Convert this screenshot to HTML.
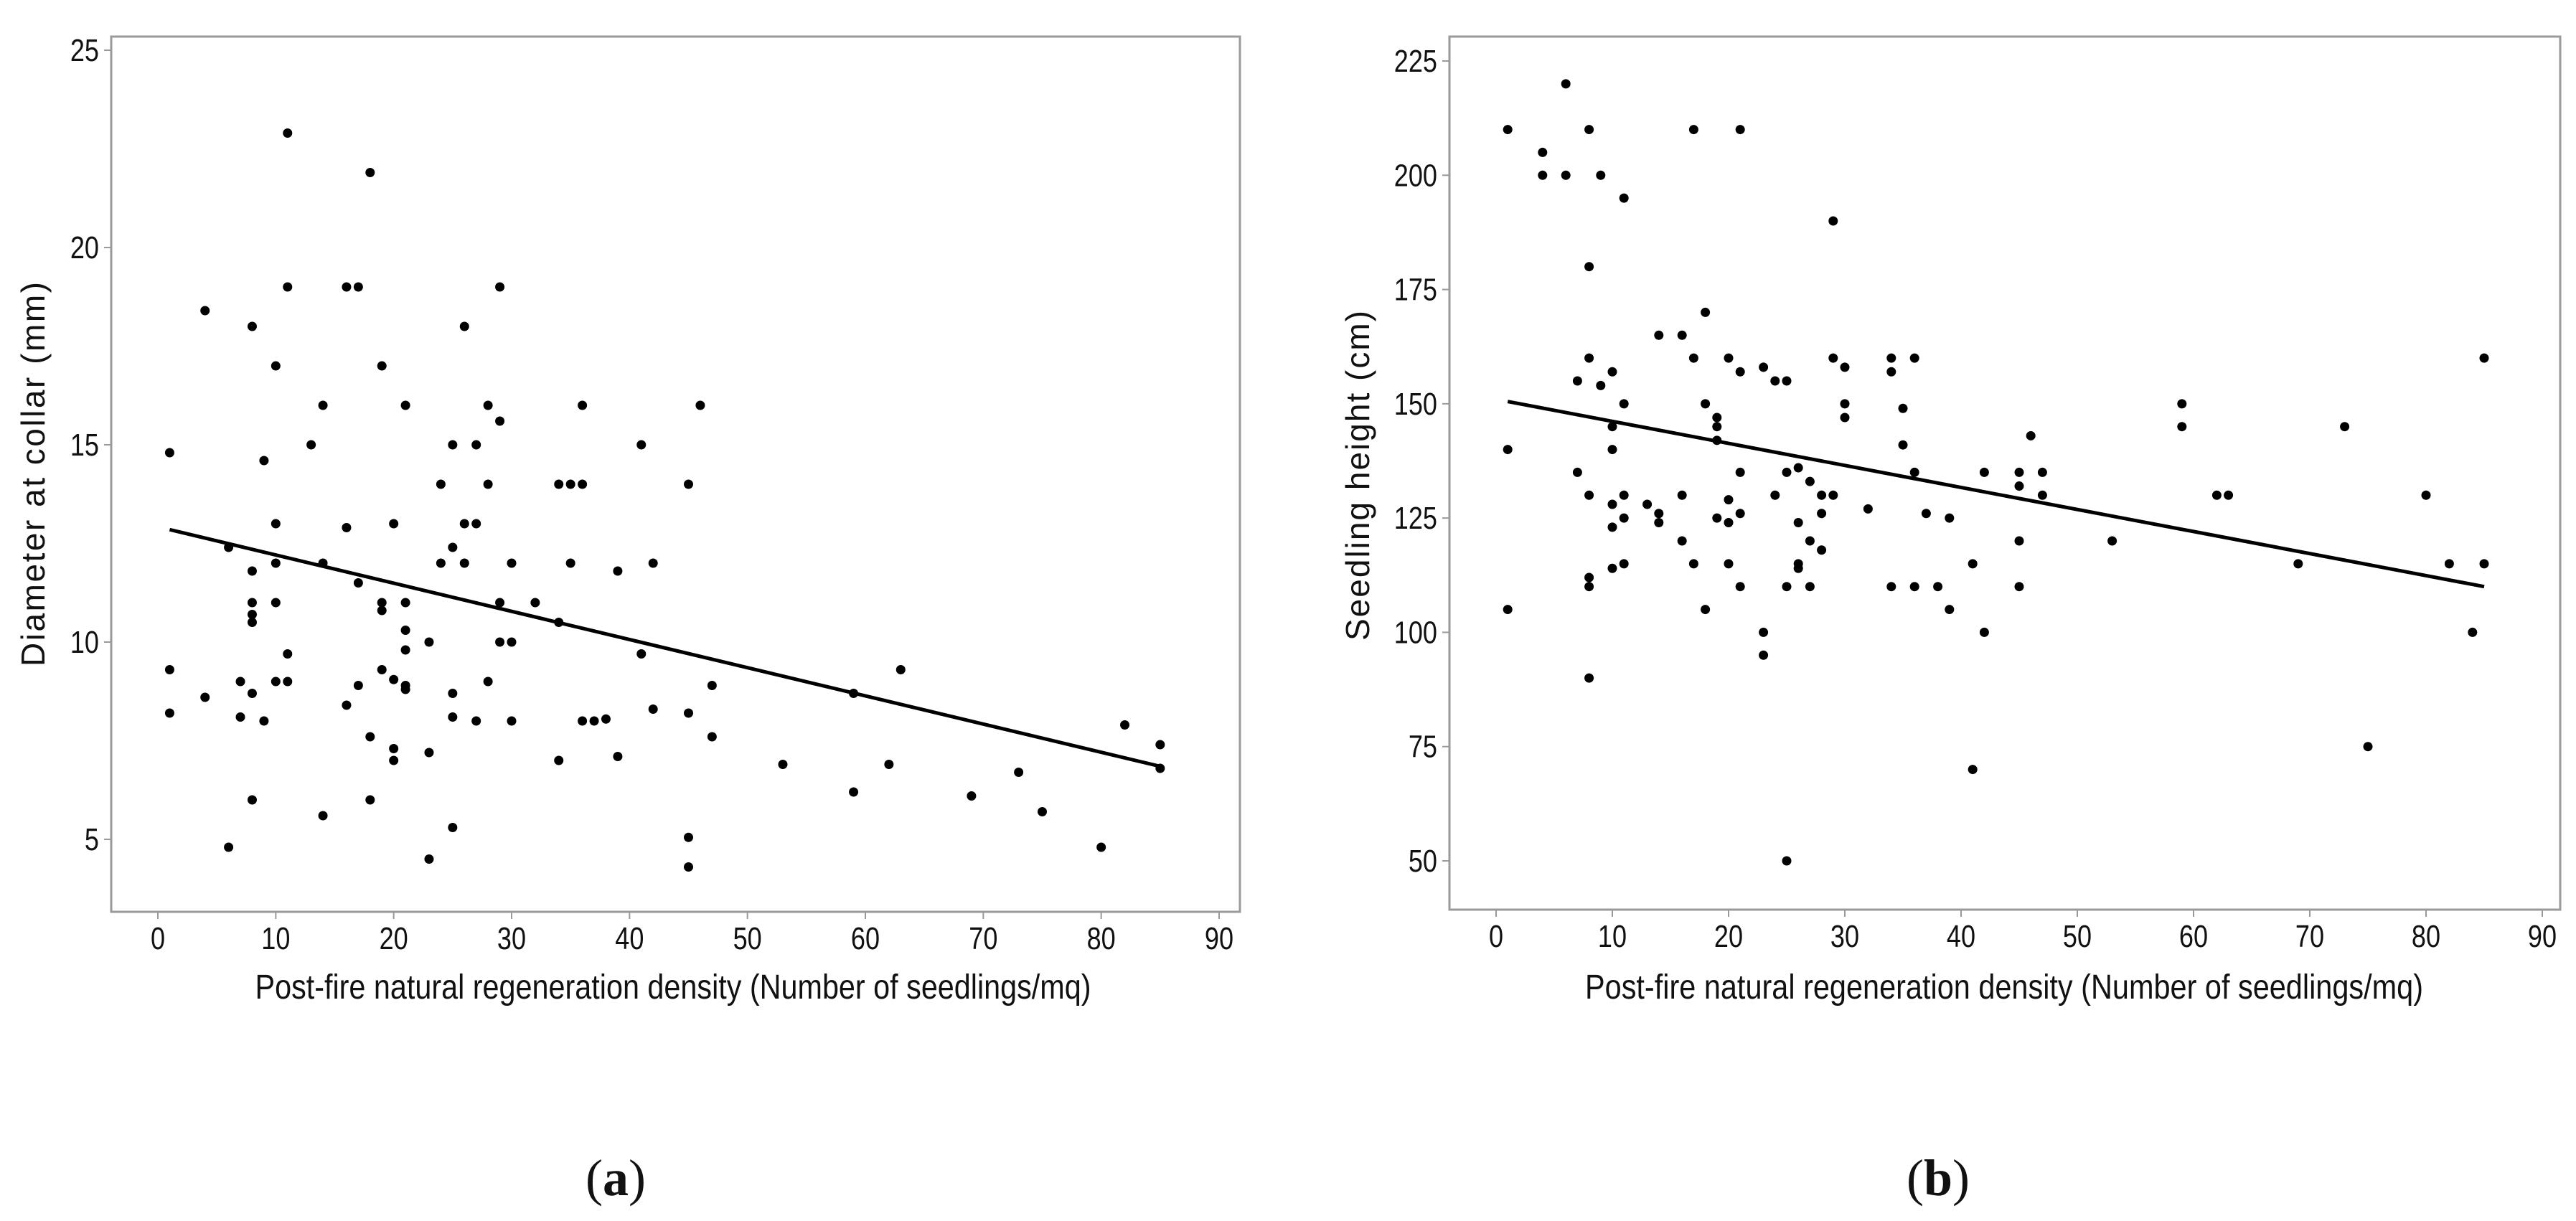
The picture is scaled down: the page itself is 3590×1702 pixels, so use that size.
<!DOCTYPE html>
<html><head><meta charset="utf-8"><style>
html,body{margin:0;padding:0;background:#fff;}
svg{display:block;}
text{font-family:"Liberation Sans",sans-serif;fill:#111;}
</style></head><body>
<svg id="fig" width="3590" height="1702" viewBox="0 0 3590 1702" xmlns="http://www.w3.org/2000/svg"></svg>
<script>
// Panel (a): diameter at collar
const aX = [11,18,11,16,17,29,4,8,26,10,19,14,21,28,36,46,29,13,25,27,41,1,9,24,28,34,35,36,45,10,16,20,26,27,25,6,10,14,24,26,30,35,42,8,39,17,8,10,19,21,29,32,19,8,8,34,21,23,29,30,21,41,11,1,19,63,7,10,11,20,28,21,21,17,47,8,25,59,4,16,42,1,7,45,25,9,27,30,36,37,38,82,18,47,85,20,23,39,20,34,53,62,85,73,59,69,8,18,75,14,25,45,6,80,23,45];
const aY = [22.9,21.9,19,19,19,19,18.4,18,18,17,17,16,16,16,16,16,15.6,15,15,15,15,14.8,14.6,14,14,14,14,14,14,13,12.9,13,13,13,12.4,12.4,12,12,12,12,12,12,12,11.8,11.8,11.5,11,11,11,11,11,11,10.8,10.7,10.5,10.5,10.3,10,10,10,9.8,9.7,9.7,9.3,9.3,9.3,9,9,9,9.05,9,8.9,8.8,8.9,8.9,8.7,8.7,8.7,8.6,8.4,8.3,8.2,8.1,8.2,8.1,8,8,8,8,8,8.05,7.9,7.6,7.6,7.4,7.3,7.2,7.1,7,7,6.9,6.9,6.8,6.7,6.2,6.1,6,6,5.7,5.6,5.3,5.05,4.8,4.8,4.5,4.3];
const aFitX = [1,85];
const aFitY = [12.85,6.85];
const aXTicks = [0,10,20,30,40,50,60,70,80,90];
const aYTicks = [5,10,15,20,25];
// Panel (b): seedling height
const bX = [6,1,8,17,21,4,4,6,9,11,29,8,18,14,16,8,17,20,29,34,36,85,23,30,10,21,34,7,24,25,9,11,18,30,59,35,19,30,10,19,59,73,46,19,35,1,10,26,7,21,25,36,42,45,47,27,45,8,11,16,24,28,29,47,62,63,80,20,13,10,32,14,21,28,37,11,19,39,14,20,26,10,16,27,45,53,28,11,17,20,26,41,69,82,85,10,26,8,8,21,25,27,34,36,38,45,1,18,39,23,42,84,23,8,75,41,25];
const bY = [220,210,210,210,210,205,200,200,200,195,190,180,170,165,165,160,160,160,160,160,160,160,158,158,157,157,157,155,155,155,154,150,150,150,150,149,147,147,145,145,145,145,143,142,141,140,140,136,135,135,135,135,135,135,135,133,132,130,130,130,130,130,130,130,130,130,130,129,128,128,127,126,126,126,126,125,125,125,124,124,124,123,120,120,120,120,118,115,115,115,115,115,115,115,115,114,114,112,110,110,110,110,110,110,110,110,105,105,105,100,100,100,95,90,75,70,50];
const bFitX = [1,85];
const bFitY = [150.5,110];
const bXTicks = [0,10,20,30,40,50,60,70,80,90];
const bYTicks = [50,75,100,125,150,175,200,225];

const NS = "http://www.w3.org/2000/svg";
const svg = document.getElementById('fig');
function mk(tag, attrs, parent){
  const e = document.createElementNS(NS, tag);
  for (const k in attrs) e.setAttribute(k, attrs[k]);
  (parent||svg).appendChild(e);
  return e;
}
function panel(cfg){
  const g = mk('g', {});
  
  
  const sx = v => cfg.x0 + (v - cfg.xa) * (cfg.x1 - cfg.x0) / (cfg.xb - cfg.xa);
  const sy = v => cfg.y0 + (v - cfg.ya) * (cfg.y1 - cfg.y0) / (cfg.yb - cfg.ya);
  const fr = mk('rect', {x:cfg.fl, y:cfg.ft, width:cfg.fr-cfg.fl, height:cfg.fb-cfg.ft, fill:'none', stroke:'#9a9a9a', 'stroke-width':3}, g);
  
  
  cfg.xt.forEach(t => {
    const x = sx(t);
    const tk = mk('line', {x1:x, x2:x, y1:cfg.fb, y2:cfg.fb+10, stroke:'#9a9a9a', 'stroke-width':2}, g);
    
    
    const tx = mk('text', {x:x, y:cfg.fb+52, 'text-anchor':'middle', 'font-size':44, transform:`translate(${x},0) scale(0.82,1) translate(${-x},0)`}, g);
    tx.textContent = t;
    
    
  });
  cfg.yt.forEach(t => {
    const y = sy(t);
    const tk = mk('line', {x1:cfg.fl-10, x2:cfg.fl, y1:y, y2:y, stroke:'#9a9a9a', 'stroke-width':2}, g);
    
    
    const lx = cfg.fl - 17;
    const tx = mk('text', {x:lx, y:y+15, 'text-anchor':'end', 'font-size':44, transform:`translate(${lx},0) scale(0.82,1) translate(${-lx},0)`}, g);
    tx.textContent = t;
    
    
  });
  const xt = mk('text', {x:cfg.xtc, y:1392, 'text-anchor':'middle', 'font-size':48, textLength:cfg.xtl, lengthAdjust:'spacingAndGlyphs'}, g);
  xt.textContent = 'Post-fire natural regeneration density (Number of seedlings/mq)';
  
  
  const yt = mk('text', {x:0, y:0, 'text-anchor':'middle', 'font-size':46, textLength:cfg.ytl, lengthAdjust:'spacing', transform:`translate(${cfg.ytx},${cfg.ytc}) rotate(-90)`}, g);
  yt.textContent = cfg.ytitle;
  
  
  const ln = mk('line', {x1:sx(cfg.fx[0]), y1:sy(cfg.fy[0]), x2:sx(cfg.fx[1]), y2:sy(cfg.fy[1]), stroke:'#000', 'stroke-width':5}, g);
  
  
  cfg.px.forEach((v, i) => {
    const c = mk('circle', {cx:sx(v), cy:sy(cfg.py[i]), r:6.5, fill:'#000'}, g);
    
    
  });
  const lab = mk('text', {x:cfg.labx, y:1666, 'text-anchor':'middle', 'font-size':72, style:'font-family:"Liberation Serif",serif'}, g);
  lab.innerHTML = '(<tspan font-weight="bold">' + cfg.lab + '</tspan>)';
  
  
}
panel({name:'panel-a', x0:220, x1:1699, xa:0, xb:90, y0:1170, y1:70, ya:5, yb:25,
  fl:155, fr:1728, ft:51, fb:1271, xt:aXTicks, yt:aYTicks, px:aX, py:aY, fx:aFitX, fy:aFitY,
  xtc:938, xtl:1165, ytx:62, ytc:661, ytl:536, ytitle:'Diameter at collar (mm)', labx:858, lab:'a'});
panel({name:'panel-b', x0:2085, x1:3543, xa:0, xb:90, y0:1200, y1:85, ya:50, yb:225,
  fl:2020, fr:3568, ft:51, fb:1268, xt:bXTicks, yt:bYTicks, px:bX, py:bY, fx:bFitX, fy:bFitY,
  xtc:2793, xtl:1168, ytx:1908, ytc:663, ytl:460, ytitle:'Seedling height (cm)', labx:2701, lab:'b'});
</script>
</body></html>
